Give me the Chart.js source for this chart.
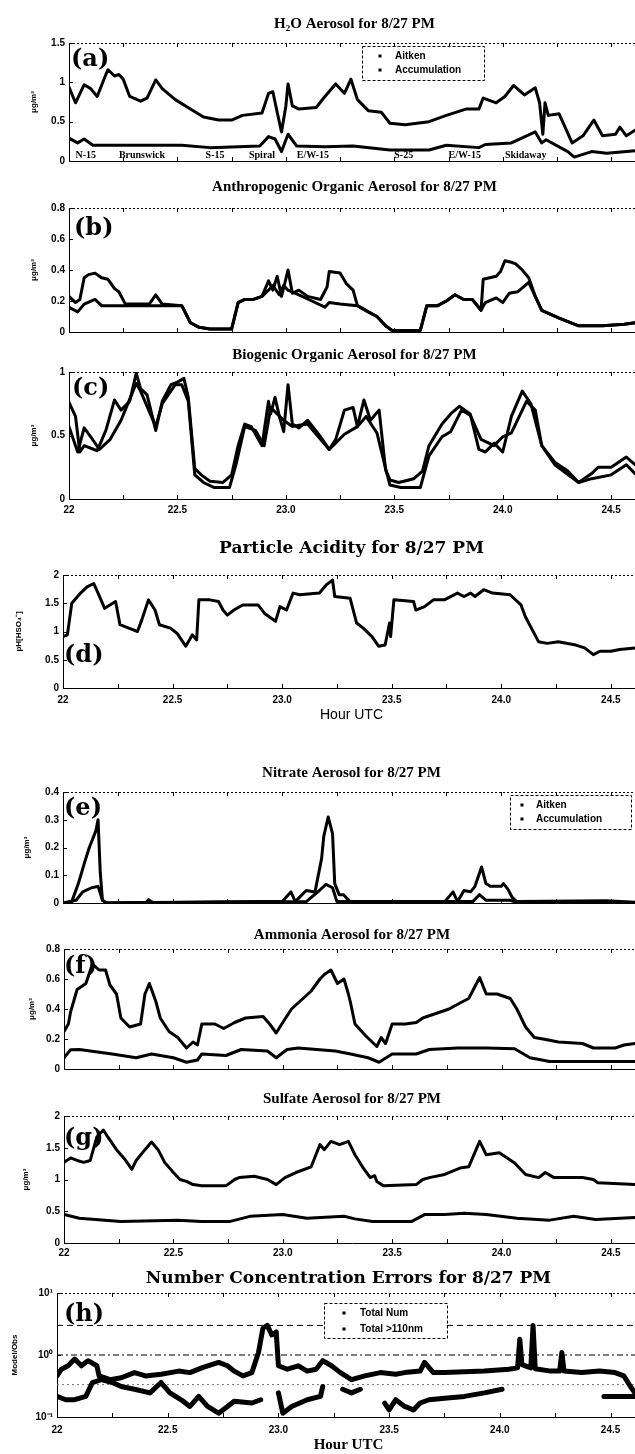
<!DOCTYPE html>
<html>
<head>
<meta charset="utf-8">
<title>Aerosol composition, 8/27 PM</title>
<script src="https://cdn.jsdelivr.net/npm/chart.js@4.4.1/dist/chart.umd.min.js"></script>
<style>
  html, body { margin: 0; padding: 0; background: #fff; }
  body { width: 635px; height: 1454px; position: relative; overflow: hidden; }
  canvas { position: absolute; left: 0; }
</style>
</head>
<body>
<script>
// ---- flight data, [hour UTC, value] ----
const h2oAccumulation = [[22.00,0.94],[22.03,0.74],[22.07,0.97],[22.10,0.92],[22.13,0.82],[22.17,1.10],[22.18,1.16],[22.21,1.08],[22.23,1.10],[22.25,1.04],[22.28,0.82],[22.33,0.76],[22.36,0.80],[22.40,1.03],[22.43,0.92],[22.49,0.78],[22.56,0.66],[22.62,0.56],[22.69,0.52],[22.75,0.52],[22.80,0.58],[22.89,0.61],[22.92,0.86],[22.94,0.88],[22.96,0.62],[22.98,0.37],[23.00,0.70],[23.01,0.98],[23.03,0.70],[23.06,0.66],[23.14,0.68],[23.18,0.82],[23.23,0.98],[23.27,0.86],[23.30,1.04],[23.33,0.78],[23.38,0.64],[23.44,0.62],[23.48,0.48],[23.55,0.46],[23.66,0.50],[23.74,0.58],[23.83,0.66],[23.89,0.66],[23.91,0.80],[23.97,0.74],[24.01,0.82],[24.05,0.96],[24.10,0.84],[24.15,0.93],[24.17,0.74],[24.185,0.34],[24.195,0.74],[24.21,0.58],[24.26,0.60],[24.32,0.23],[24.37,0.32],[24.42,0.52],[24.46,0.32],[24.52,0.34],[24.54,0.43],[24.57,0.32],[24.61,0.39]];
const h2oAitken = [[22.00,0.29],[22.04,0.23],[22.07,0.28],[22.11,0.20],[22.24,0.20],[22.52,0.20],[22.65,0.17],[22.88,0.19],[22.92,0.31],[22.95,0.28],[22.98,0.12],[23.01,0.34],[23.05,0.19],[23.18,0.18],[23.31,0.19],[23.48,0.14],[23.66,0.14],[23.74,0.20],[23.89,0.17],[23.92,0.21],[24.04,0.23],[24.11,0.32],[24.15,0.37],[24.18,0.23],[24.20,0.27],[24.30,0.12],[24.33,0.05],[24.41,0.12],[24.48,0.10],[24.61,0.13]];

const stationHours = [22.03, 22.23, 22.63, 22.83, 23.05, 23.50, 23.75, 24.01];
const stationNames = ['N-15', 'Brunswick', 'S-15', 'Spiral', 'E/W-15', 'S-25', 'E/W-15', 'Skidaway'];

const anthroAccumulation = [[22.00,0.23],[22.03,0.19],[22.05,0.21],[22.07,0.35],[22.09,0.37],[22.12,0.38],[22.15,0.35],[22.18,0.34],[22.21,0.28],[22.23,0.26],[22.26,0.18],[22.37,0.18],[22.40,0.24],[22.43,0.18],[22.52,0.17],[22.56,0.06],[22.60,0.03],[22.65,0.02],[22.75,0.02],[22.78,0.19],[22.81,0.21],[22.85,0.21],[22.89,0.23],[22.92,0.33],[22.94,0.27],[22.96,0.36],[22.98,0.23],[23.01,0.40],[23.03,0.25],[23.06,0.27],[23.10,0.23],[23.16,0.21],[23.19,0.29],[23.20,0.39],[23.25,0.38],[23.28,0.31],[23.31,0.27],[23.33,0.17],[23.38,0.13],[23.42,0.10],[23.46,0.04],[23.49,0.01],[23.62,0.01],[23.65,0.17],[23.70,0.17],[23.74,0.20],[23.78,0.24],[23.82,0.21],[23.86,0.21],[23.90,0.14],[23.91,0.34],[23.97,0.36],[23.99,0.39],[24.01,0.46],[24.04,0.45],[24.06,0.44],[24.09,0.40],[24.12,0.35],[24.15,0.23],[24.18,0.14],[24.26,0.09],[24.35,0.04],[24.46,0.04],[24.56,0.05],[24.61,0.06]];
const anthroAitken = [[22.00,0.16],[22.04,0.13],[22.07,0.18],[22.12,0.21],[22.15,0.17],[22.21,0.17],[22.52,0.17],[22.56,0.06],[22.60,0.03],[22.65,0.02],[22.75,0.02],[22.78,0.19],[22.81,0.21],[22.85,0.21],[22.89,0.23],[22.92,0.27],[22.94,0.30],[22.97,0.24],[22.99,0.30],[23.01,0.27],[23.06,0.24],[23.12,0.20],[23.18,0.16],[23.20,0.19],[23.25,0.18],[23.33,0.17],[23.38,0.13],[23.42,0.10],[23.46,0.04],[23.49,0.01],[23.62,0.01],[23.65,0.17],[23.70,0.17],[23.74,0.20],[23.78,0.24],[23.82,0.21],[23.86,0.21],[23.90,0.14],[23.92,0.19],[23.97,0.22],[24.00,0.19],[24.03,0.25],[24.07,0.26],[24.12,0.32],[24.15,0.23],[24.18,0.14],[24.26,0.09],[24.35,0.04],[24.46,0.04],[24.56,0.05],[24.61,0.06]];

const bioAccumulation = [[22.00,0.76],[22.03,0.65],[22.05,0.37],[22.07,0.42],[22.13,0.38],[22.17,0.54],[22.21,0.78],[22.24,0.70],[22.28,0.77],[22.31,0.99],[22.33,0.87],[22.36,0.82],[22.40,0.54],[22.43,0.77],[22.47,0.90],[22.50,0.92],[22.53,0.95],[22.55,0.80],[22.58,0.24],[22.61,0.19],[22.65,0.14],[22.71,0.13],[22.75,0.19],[22.78,0.42],[22.81,0.59],[22.84,0.57],[22.89,0.42],[22.92,0.77],[22.93,0.67],[22.95,0.80],[22.97,0.65],[22.99,0.53],[23.01,0.90],[23.03,0.59],[23.06,0.56],[23.10,0.62],[23.16,0.49],[23.20,0.39],[23.23,0.47],[23.27,0.70],[23.31,0.72],[23.33,0.57],[23.36,0.78],[23.39,0.62],[23.43,0.70],[23.46,0.23],[23.48,0.15],[23.52,0.13],[23.59,0.16],[23.63,0.22],[23.66,0.42],[23.72,0.59],[23.76,0.67],[23.80,0.73],[23.85,0.67],[23.89,0.39],[23.92,0.37],[23.96,0.44],[24.00,0.37],[24.04,0.65],[24.09,0.85],[24.13,0.75],[24.18,0.42],[24.24,0.29],[24.30,0.22],[24.35,0.13],[24.41,0.20],[24.44,0.25],[24.50,0.25],[24.57,0.33],[24.61,0.27]];
const bioAitken = [[22.00,0.57],[22.04,0.37],[22.07,0.56],[22.10,0.49],[22.14,0.39],[22.19,0.47],[22.24,0.62],[22.31,0.91],[22.33,0.85],[22.40,0.57],[22.43,0.75],[22.49,0.90],[22.52,0.90],[22.55,0.77],[22.58,0.19],[22.62,0.13],[22.67,0.09],[22.74,0.09],[22.77,0.27],[22.81,0.57],[22.86,0.54],[22.90,0.42],[22.93,0.72],[22.99,0.62],[23.03,0.57],[23.06,0.58],[23.10,0.59],[23.20,0.39],[23.27,0.51],[23.33,0.57],[23.37,0.65],[23.42,0.52],[23.46,0.24],[23.48,0.11],[23.53,0.09],[23.62,0.09],[23.66,0.34],[23.72,0.49],[23.76,0.53],[23.81,0.70],[23.85,0.66],[23.90,0.47],[23.96,0.42],[24.00,0.49],[24.04,0.52],[24.11,0.77],[24.15,0.70],[24.18,0.42],[24.24,0.27],[24.35,0.13],[24.41,0.16],[24.50,0.19],[24.57,0.27],[24.61,0.20]];

const acidity = [[22.00,0.91],[22.02,0.94],[22.04,1.50],[22.08,1.68],[22.11,1.79],[22.14,1.85],[22.16,1.68],[22.19,1.41],[22.24,1.53],[22.26,1.12],[22.30,1.06],[22.34,1.00],[22.36,1.21],[22.39,1.56],[22.42,1.38],[22.44,1.12],[22.49,1.06],[22.52,0.97],[22.56,0.74],[22.59,0.94],[22.61,0.85],[22.62,1.56],[22.67,1.56],[22.71,1.53],[22.73,1.38],[22.75,1.29],[22.78,1.38],[22.82,1.47],[22.89,1.47],[22.92,1.32],[22.97,1.18],[22.99,1.44],[23.02,1.38],[23.05,1.68],[23.08,1.65],[23.17,1.68],[23.20,1.82],[23.23,1.91],[23.24,1.62],[23.31,1.59],[23.34,1.15],[23.37,1.06],[23.41,0.91],[23.44,0.74],[23.47,0.76],[23.49,1.15],[23.495,0.91],[23.51,1.56],[23.60,1.53],[23.61,1.38],[23.65,1.44],[23.69,1.56],[23.74,1.56],[23.80,1.68],[23.83,1.62],[23.86,1.68],[23.88,1.62],[23.92,1.74],[23.96,1.68],[24.04,1.65],[24.09,1.47],[24.11,1.26],[24.17,0.82],[24.21,0.79],[24.26,0.82],[24.34,0.76],[24.38,0.71],[24.42,0.59],[24.45,0.65],[24.50,0.65],[24.54,0.68],[24.61,0.71]];

const nitrateAccumulation = [[22.00,0],[22.04,0.005],[22.07,0.07],[22.10,0.15],[22.12,0.20],[22.13,0.22],[22.15,0.26],[22.16,0.30],[22.17,0.11],[22.18,0.01],[22.20,0],[22.38,0.003],[22.39,0.012],[22.41,0.002],[22.91,0.005],[23.00,0.005],[23.04,0.04],[23.06,0.005],[23.11,0.045],[23.15,0.04],[23.18,0.16],[23.19,0.24],[23.21,0.31],[23.23,0.25],[23.24,0.07],[23.26,0.03],[23.28,0.03],[23.31,0.005],[23.74,0.003],[23.78,0.04],[23.80,0.005],[23.83,0.045],[23.86,0.04],[23.88,0.06],[23.91,0.13],[23.93,0.07],[23.95,0.06],[24.00,0.06],[24.01,0.07],[24.03,0.05],[24.05,0.02],[24.07,0.005],[24.48,0.008],[24.61,0.003]];
const nitrateAitken = [[22.00,0],[22.06,0.01],[22.09,0.04],[22.13,0.055],[22.16,0.06],[22.18,0.01],[22.20,0],[23.11,0.005],[23.17,0.045],[23.20,0.067],[23.23,0.055],[23.25,0.005],[23.87,0.005],[23.90,0.03],[23.93,0.01],[24.04,0.01],[24.07,0.002],[24.61,0.002]];

const ammoniaAccumulation = [[22.00,0.25],[22.02,0.30],[22.03,0.38],[22.05,0.48],[22.06,0.53],[22.10,0.57],[22.13,0.70],[22.16,0.66],[22.19,0.66],[22.21,0.56],[22.24,0.50],[22.26,0.34],[22.30,0.28],[22.35,0.30],[22.37,0.50],[22.39,0.57],[22.42,0.45],[22.44,0.34],[22.48,0.25],[22.52,0.21],[22.56,0.14],[22.59,0.18],[22.61,0.16],[22.63,0.30],[22.69,0.30],[22.73,0.27],[22.78,0.31],[22.83,0.34],[22.91,0.35],[22.94,0.30],[22.97,0.24],[23.00,0.31],[23.04,0.40],[23.07,0.44],[23.13,0.52],[23.17,0.60],[23.19,0.63],[23.22,0.66],[23.25,0.57],[23.28,0.60],[23.30,0.50],[23.31,0.44],[23.33,0.30],[23.38,0.22],[23.43,0.15],[23.45,0.21],[23.47,0.17],[23.50,0.30],[23.56,0.30],[23.61,0.31],[23.64,0.34],[23.70,0.37],[23.76,0.40],[23.81,0.44],[23.85,0.47],[23.90,0.61],[23.93,0.50],[23.98,0.50],[24.04,0.47],[24.07,0.40],[24.11,0.28],[24.15,0.21],[24.19,0.20],[24.26,0.18],[24.37,0.17],[24.42,0.14],[24.52,0.14],[24.56,0.16],[24.61,0.17]];
const ammoniaAitken = [[22.00,0.075],[22.03,0.128],[22.07,0.13],[22.22,0.10],[22.33,0.075],[22.40,0.10],[22.50,0.075],[22.56,0.045],[22.61,0.06],[22.63,0.10],[22.74,0.09],[22.81,0.13],[22.93,0.12],[22.97,0.075],[23.02,0.13],[23.07,0.14],[23.24,0.12],[23.31,0.10],[23.39,0.075],[23.44,0.045],[23.50,0.10],[23.61,0.10],[23.67,0.13],[23.80,0.14],[23.93,0.14],[24.06,0.135],[24.13,0.075],[24.22,0.05],[24.33,0.05],[24.61,0.05]];

const sulfateAccumulation = [[22.00,1.27],[22.03,1.34],[22.06,1.30],[22.09,1.27],[22.12,1.30],[22.15,1.67],[22.18,1.78],[22.20,1.67],[22.24,1.47],[22.28,1.31],[22.31,1.16],[22.33,1.30],[22.37,1.47],[22.40,1.59],[22.43,1.47],[22.46,1.27],[22.50,1.11],[22.53,1.00],[22.56,0.97],[22.59,0.92],[22.63,0.90],[22.74,0.90],[22.78,1.00],[22.80,1.03],[22.87,1.05],[22.93,1.00],[22.97,0.92],[23.01,1.03],[23.06,1.11],[23.13,1.20],[23.17,1.55],[23.19,1.47],[23.22,1.60],[23.26,1.55],[23.30,1.60],[23.33,1.39],[23.37,1.17],[23.40,1.03],[23.42,1.06],[23.43,0.97],[23.46,0.90],[23.61,0.92],[23.64,1.00],[23.67,1.03],[23.74,1.08],[23.81,1.18],[23.85,1.20],[23.90,1.60],[23.93,1.39],[23.99,1.42],[24.06,1.26],[24.11,1.08],[24.17,1.03],[24.20,1.11],[24.24,1.03],[24.37,1.03],[24.42,1.00],[24.44,0.95],[24.61,0.92]];
const sulfateAitken = [[22.00,0.45],[22.07,0.39],[22.26,0.34],[22.52,0.36],[22.63,0.34],[22.76,0.34],[22.85,0.42],[23.00,0.45],[23.11,0.39],[23.28,0.42],[23.33,0.38],[23.41,0.34],[23.59,0.34],[23.65,0.45],[23.74,0.45],[23.83,0.47],[23.93,0.45],[24.07,0.39],[24.22,0.36],[24.33,0.42],[24.43,0.37],[24.61,0.40]];

// model/observation ratios; null marks breaks in the record
const ratioTotalNum = [[22.00,0.46],[22.02,0.59],[22.05,0.67],[22.08,0.86],[22.11,0.67],[22.14,0.81],[22.18,0.67],[22.19,0.46],[22.24,0.40],[22.29,0.43],[22.35,0.52],[22.40,0.46],[22.47,0.49],[22.55,0.55],[22.60,0.52],[22.66,0.63],[22.73,0.76],[22.77,0.67],[22.80,0.55],[22.84,0.46],[22.88,0.52],[22.91,1.1],[22.93,2.7],[22.95,3.0],[22.97,2.1],[22.99,2.35],[23.00,0.67],[23.04,0.59],[23.09,0.67],[23.13,0.55],[23.17,0.59],[23.20,0.81],[23.24,0.67],[23.28,0.52],[23.33,0.40],[23.39,0.46],[23.46,0.52],[23.53,0.49],[23.57,0.52],[23.64,0.55],[23.66,0.76],[23.70,0.52],[23.75,0.52],[23.93,0.55],[24.04,0.59],[24.08,0.62],[24.09,1.8],[24.10,0.70],[24.14,0.62],[24.15,3.0],[24.16,0.60],[24.23,0.55],[24.27,0.55],[24.28,1.1],[24.29,0.55],[24.37,0.52],[24.45,0.55],[24.52,0.52],[24.56,0.46],[24.59,0.31],[24.61,0.245]];
const ratioLarge = [[22.00,0.215],[22.04,0.19],[22.08,0.19],[22.13,0.215],[22.16,0.36],[22.20,0.40],[22.25,0.36],[22.29,0.31],[22.35,0.28],[22.42,0.245],[22.47,0.36],[22.51,0.245],[22.57,0.18],[22.60,0.148],[22.64,0.215],[22.68,0.148],[22.73,0.115],[22.77,0.148],[22.80,0.18],[22.88,0.168],[22.92,0.19],[22.95,null],[23.00,0.245],[23.02,0.115],[23.06,0.148],[23.13,0.19],[23.19,0.215],[23.20,0.31],[23.24,null],[23.29,0.28],[23.33,0.245],[23.37,0.28],[23.42,null],[23.48,0.168],[23.50,0.13],[23.53,0.19],[23.57,0.148],[23.61,0.13],[23.64,0.168],[23.68,0.19],[23.75,0.20],[23.84,0.215],[23.93,0.245],[24.01,0.28],[24.20,null],[24.47,0.215],[24.54,0.215],[24.61,0.215]];
const ratioGuides = [3, 1, 1 / 3];

const X_MIN = 22, X_MAX = 24.633;
const CANVAS_W = 640;

const tickFont = { family: 'Liberation Sans', size: 10, weight: 'bold' };
const unitFont = { family: 'Liberation Sans', size: 8, weight: 'bold' };
const smallTitle = { family: 'Liberation Serif', size: 15, weight: 'bold' };
const bigTitle = { family: 'DejaVu Serif', size: 17, weight: 'bold' };

const pts = arr => arr.map(([x, y]) => ({ x, y }));

function series(label, arr, width) {
    return {
        label, data: pts(arr),
        borderColor: '#000', borderWidth: width || 3,
        pointRadius: 0, tension: 0, fill: false, spanGaps: false,
        borderJoinStyle: 'round', borderCapStyle: 'round'
    };
}

function guide(value, dash, color) {
    return {
        label: '', data: [{ x: X_MIN, y: value }, { x: X_MAX, y: value }],
        borderColor: color, borderWidth: 1, borderDash: dash, pointRadius: 0
    };
}

function hourLabel(v) {
    const r = Math.round(v * 4) / 4;
    if (Math.abs(r * 2 - Math.round(r * 2)) > 1e-6) return '';
    return r === 22 ? '22' : r.toFixed(1);
}

const sup = { '-1': '⁻¹', '0': '⁰', '1': '¹' };
function powerLabel(v) {
    const e = Math.log10(v);
    const r = Math.round(e);
    return Math.abs(e - r) < 1e-6 ? '10' + sup[r] : '';
}

// letters, legend boxes, station names and the rest of the axes box
const panelDecor = {
    id: 'panelDecor',
    afterDatasetsDraw(chart, args, o) {
        const { ctx, chartArea: a, scales: { x, y } } = chart;
        const off = o.top;
        ctx.save();
        ctx.strokeStyle = '#000';
        ctx.fillStyle = '#000';
        ctx.lineWidth = 1;

        ctx.setLineDash([2, 2]);
        ctx.beginPath();
        ctx.moveTo(a.left, Math.round(a.top) + 0.5);
        ctx.lineTo(a.right, Math.round(a.top) + 0.5);
        ctx.stroke();
        ctx.setLineDash([]);

        ctx.beginPath();
        x.ticks.forEach(t => {
            const px = Math.round(x.getPixelForValue(t.value)) + 0.5;
            ctx.moveTo(px, a.bottom); ctx.lineTo(px, a.bottom - 4);
            ctx.moveTo(px, a.top); ctx.lineTo(px, a.top + 4);
        });
        y.ticks.forEach(t => {
            if (o.logAxis && powerLabel(t.value) === '') return;
            const py = Math.round(y.getPixelForValue(t.value)) + 0.5;
            ctx.moveTo(a.left, py); ctx.lineTo(a.left + 4, py);
        });
        ctx.stroke();

        if (o.stations) {
            ctx.font = 'bold 10px "Liberation Serif"';
            ctx.textAlign = 'left';
            ctx.textBaseline = 'bottom';
            o.stations.hours.forEach((hr, i) => {
                ctx.fillText(o.stations.names[i], x.getPixelForValue(hr), a.bottom - 1);
            });
        }

        if (o.legend) {
            const L = o.legend;
            const top = L.y - off;
            ctx.fillStyle = '#fff';
            ctx.fillRect(L.x, top, L.w, L.h);
            ctx.setLineDash([3, 2]);
            ctx.strokeRect(L.x + 0.5, top + 0.5, L.w, L.h);
            ctx.setLineDash([]);
            ctx.fillStyle = '#000';
            ctx.font = 'bold 10px "Liberation Sans"';
            ctx.textAlign = 'left';
            ctx.textBaseline = 'middle';
            L.items.forEach((idx, i) => {
                const yy = top + L.rows[i];
                ctx.fillRect(L.x + L.markX - 1.5, yy - 1.5, 3, 3);
                ctx.fillText(chart.data.datasets[idx].label, L.x + L.textX, yy);
            });
        }

        ctx.font = 'bold 24px "DejaVu Serif"';
        ctx.textAlign = 'left';
        ctx.textBaseline = 'middle';
        ctx.fillText(o.letter, o.letterX, o.letterY - off);
        ctx.restore();
    }
};

function buildPanel(p) {
    const tf = p.titleFont;
    const canvasTop = Math.round(p.titleY - 0.6 * tf.size);
    const titlePad = p.plotTop - canvasTop - 1.2 * tf.size;
    const xh = p.xAxisHeight || 0;
    const height = Math.ceil(p.plotBottom - canvasTop + xh + 2);
    const padBottom = height - (p.plotBottom - canvasTop) - xh;
    const padLeft = p.yTitleX - 4.8;

    const canvas = document.createElement('canvas');
    canvas.width = CANVAS_W;
    canvas.height = height;
    canvas.style.top = canvasTop + 'px';
    document.body.appendChild(canvas);

    new Chart(canvas, {
        type: 'line',
        data: { datasets: p.datasets },
        options: {
            responsive: false,
            animation: false,
            devicePixelRatio: 1,
            layout: { padding: { left: padLeft, right: 0, top: 0, bottom: padBottom } },
            plugins: {
                legend: { display: false },
                tooltip: { enabled: false },
                title: {
                    display: true, text: p.title, fullSize: false, color: '#000',
                    font: tf, padding: { top: 0, bottom: titlePad }
                },
                panelDecor: Object.assign({ top: canvasTop }, p.decor)
            },
            scales: {
                x: {
                    type: 'linear', min: X_MIN, max: X_MAX,
                    ticks: {
                        display: xh > 0, stepSize: 0.25, includeBounds: false,
                        maxTicksLimit: 20, autoSkip: false, maxRotation: 0,
                        color: '#000', font: tickFont, padding: p.xTickPad || 4,
                        callback: hourLabel
                    },
                    grid: { display: false, drawTicks: false },
                    border: { display: true, color: '#000', width: 1, dash: [2, 2] },
                    title: {
                        display: !!p.xTitle, text: p.xTitle, color: '#000',
                        font: p.xTitleFont, padding: 0
                    },
                    afterFit: s => { s.height = xh; }
                },
                y: {
                    type: p.logAxis ? 'logarithmic' : 'linear',
                    min: p.yMin, max: p.yMax,
                    ticks: {
                        stepSize: p.yStep, autoSkip: false, color: '#000',
                        font: tickFont, padding: 4,
                        callback: p.logAxis ? powerLabel : v => String(+v.toFixed(2))
                    },
                    grid: { display: false, drawTicks: false },
                    border: { display: true, color: '#000', width: 1, dash: [2, 2] },
                    title: { display: true, text: p.yTitle, color: '#000', font: unitFont, padding: 0 },
                    afterFit: s => { s.width = p.plotLeft - padLeft; }
                }
            }
        },
        plugins: [panelDecor]
    });
}

const unit = 'μg/m³';

buildPanel({
    title: 'H₂O Aerosol for 8/27 PM', titleFont: smallTitle, titleY: 24,
    plotTop: 43, plotBottom: 169, plotLeft: 69, yTitleX: 34,
    yMin: 0, yMax: 1.5, yStep: 0.5, yTitle: unit,
    datasets: [series('Accumulation', h2oAccumulation), series('Aitken', h2oAitken)],
    decor: {
        letter: '(a)', letterX: 71, letterY: 60,
        stations: { hours: stationHours, names: stationNames },
        legend: { x: 362, y: 46, w: 122, h: 34, markX: 18, textX: 33, rows: [10, 24], items: [1, 0] }
    }
});

buildPanel({
    title: 'Anthropogenic Organic Aerosol for 8/27 PM', titleFont: smallTitle, titleY: 187,
    plotTop: 208, plotBottom: 340, plotLeft: 69, yTitleX: 34,
    yMin: 0, yMax: 0.8, yStep: 0.2, yTitle: unit,
    datasets: [series('Accumulation', anthroAccumulation), series('Aitken', anthroAitken)],
    decor: { letter: '(b)', letterX: 74, letterY: 229 }
});

buildPanel({
    title: 'Biogenic Organic Aerosol for 8/27 PM', titleFont: smallTitle, titleY: 355,
    plotTop: 372, plotBottom: 499, plotLeft: 69, yTitleX: 34,
    yMin: 0, yMax: 1, yStep: 0.5, yTitle: unit,
    xAxisHeight: 20, xTickPad: 5,
    datasets: [series('Accumulation', bioAccumulation), series('Aitken', bioAitken)],
    decor: { letter: '(c)', letterX: 72, letterY: 389 }
});

buildPanel({
    title: 'Particle Acidity for 8/27 PM', titleFont: bigTitle, titleY: 548,
    plotTop: 575, plotBottom: 688, plotLeft: 63, yTitleX: 19,
    yMin: 0, yMax: 2, yStep: 0.5, yTitle: 'pH[HSO₄⁻]',
    xAxisHeight: 36, xTickPad: 6,
    xTitle: 'Hour UTC', xTitleFont: { family: 'Liberation Sans', size: 14 },
    datasets: [series('Acidity', acidity)],
    decor: { letter: '(d)', letterX: 64, letterY: 656 }
});

buildPanel({
    title: 'Nitrate Aerosol for 8/27 PM', titleFont: smallTitle, titleY: 773,
    plotTop: 792, plotBottom: 911, plotLeft: 63, yTitleX: 27,
    yMin: 0, yMax: 0.4, yStep: 0.1, yTitle: unit,
    datasets: [series('Accumulation', nitrateAccumulation), series('Aitken', nitrateAitken)],
    decor: {
        letter: '(e)', letterX: 64, letterY: 809,
        legend: { x: 510, y: 795, w: 121, h: 34, markX: 12, textX: 26, rows: [10, 24], items: [1, 0] }
    }
});

buildPanel({
    title: 'Ammonia Aerosol for 8/27 PM', titleFont: smallTitle, titleY: 935,
    plotTop: 949, plotBottom: 1077, plotLeft: 64, yTitleX: 32,
    yMin: 0, yMax: 0.8, yStep: 0.2, yTitle: unit,
    datasets: [series('Accumulation', ammoniaAccumulation), series('Aitken', ammoniaAitken)],
    decor: { letter: '(f)', letterX: 64, letterY: 967 }
});

buildPanel({
    title: 'Sulfate Aerosol for 8/27 PM', titleFont: smallTitle, titleY: 1099,
    plotTop: 1116, plotBottom: 1243, plotLeft: 64, yTitleX: 26,
    yMin: 0, yMax: 2, yStep: 0.5, yTitle: unit,
    xAxisHeight: 20, xTickPad: 4,
    datasets: [series('Accumulation', sulfateAccumulation), series('Aitken', sulfateAitken)],
    decor: { letter: '(g)', letterX: 64, letterY: 1139 }
});

buildPanel({
    title: 'Number Concentration Errors for 8/27 PM', titleFont: bigTitle, titleY: 1278,
    plotTop: 1293, plotBottom: 1417, plotLeft: 57, yTitleX: 15,
    logAxis: true, yMin: 0.1, yMax: 10, yTitle: 'Model/Obs',
    xAxisHeight: 37, xTickPad: 7,
    xTitle: 'Hour UTC', xTitleFont: { family: 'Liberation Serif', size: 15, weight: 'bold' },
    datasets: [
        series('Total Num', ratioTotalNum, 5),
        series('Total >110nm', ratioLarge, 5),
        guide(ratioGuides[0], [6, 4], '#000'),
        guide(ratioGuides[1], [6, 3, 2, 3], '#000'),
        guide(ratioGuides[2], [2, 3], '#777')
    ],
    decor: {
        letter: '(h)', letterX: 64, letterY: 1315, logAxis: true,
        legend: { x: 324, y: 1303, w: 123, h: 35, markX: 20, textX: 36, rows: [10, 26], items: [0, 1] }
    }
});
</script>
</body>
</html>
